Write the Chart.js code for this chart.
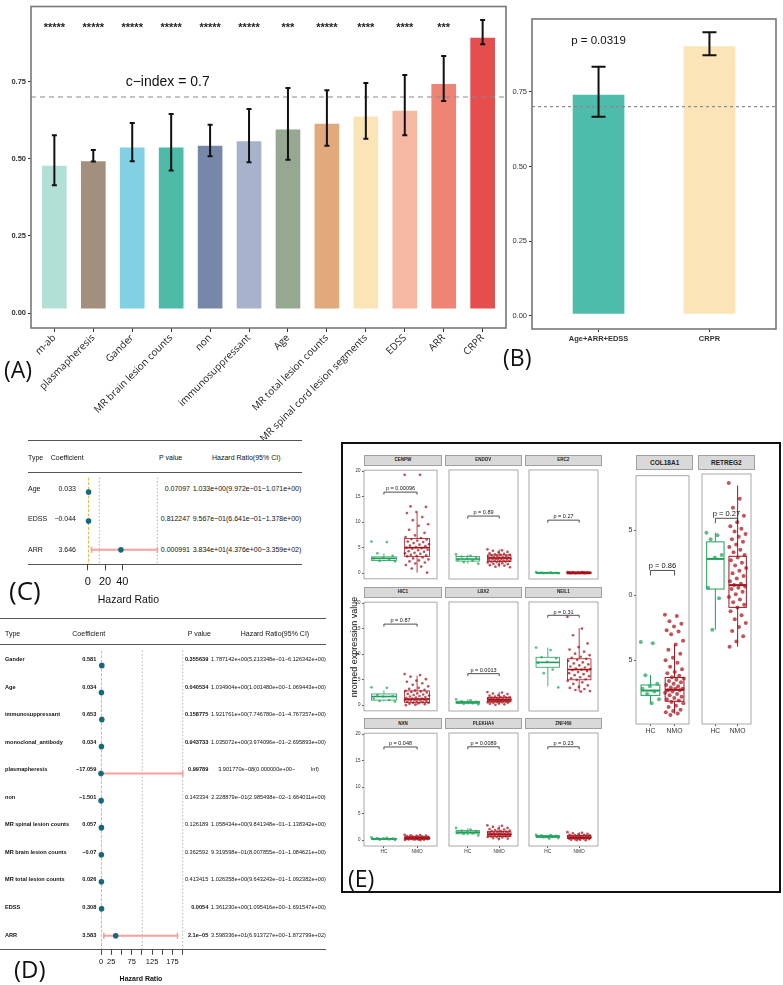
<!DOCTYPE html>
<html>
<head>
<meta charset="utf-8">
<script src="https://cdn.jsdelivr.net/npm/chart.js@4.4.1/dist/chart.umd.min.js"></script>
<style>
body { margin: 0; background: #fff; width: 783px; height: 985px; position: relative; overflow: hidden; font-family: "Liberation Sans", Arial, sans-serif; }
canvas { position: absolute; }
.t { position: absolute; white-space: pre; line-height: 1; color: #111; }
.hl { position: absolute; height: 0; }
.box { position: absolute; box-sizing: border-box; }
</style>
</head>
<body>
<script>
// ---------- data: panel A ----------
const aLabels = ['m-ab', 'plasmapheresis', 'Gander', 'MR brain lesion counts', 'non', 'immunosuppressant', 'Age',
    'MR total lesion counts', 'MR spinal cord lesion segments', 'EDSS', 'ARR', 'CRPR'];
const aCindex = [0.476, 0.491, 0.535, 0.535, 0.541, 0.556, 0.594, 0.612, 0.636, 0.654, 0.741, 0.891];
const aLow = [0.414, 0.491, 0.492, 0.462, 0.508, 0.489, 0.497, 0.542, 0.565, 0.576, 0.687, 0.871];
const aHigh = [0.576, 0.528, 0.616, 0.645, 0.610, 0.661, 0.729, 0.722, 0.745, 0.771, 0.833, 0.949];
const aStars = ['*****', '*****', '*****', '*****', '*****', '*****', '***', '*****', '****', '****', '***', ''];
const aColors = ['#b3e0d6', '#a38f7d', '#82d0e3', '#4dbba7', '#7787aa', '#a8b2cc', '#96a891', '#e0aa7d',
    '#fbe4b6', '#f7b8a3', '#ef8374', '#e54e4c'];
const aTicks = [0, 0.25, 0.5, 0.75];
const cIndexRef = 0.7;

// ---------- data: panel B ----------
const bLabels = ['Age+ARR+EDSS', 'CRPR'];
const bCindex = [0.739, 0.901];
const bLow = [0.666, 0.872];
const bHigh = [0.833, 0.949];
const bColors = ['#4dbcaa', '#fbe4b7'];
const bPText = 'p = 0.0319';

// ---------- data: panel C ----------
const cTypes = ['Age', 'EDSS', 'ARR'];
const cCoef = ['0.033', '\u22120.044', '3.646'];
const cHR = [1.033, 0.9567, 38.34];
const cLow = [0.9972, 0.6641, 4.376];
const cHigh = [1.071, 1.378, 335.9];
const cP = ['0.07097', '0.812247', '0.000991'];
const cCI = ['1.033e+00(9.972e\u221201\u22121.071e+00)', '9.567e\u221201(6.641e\u221201\u22121.378e+00)',
    '3.834e+01(4.376e+00\u22123.359e+02)'];
const cTicks = [0, 20, 40];

// ---------- data: panel D ----------
const dTypes = ['Gander', 'Age', 'immunosuppressant', 'monoclonal_antibody', 'plasmapheresis', 'non',
    'MR spinal lesion counts', 'MR brain lesion counts', 'MR total lesion counts', 'EDSS', 'ARR'];
const dCoef = ['0.581', '0.034', '0.653', '0.034', '\u221217.059', '\u22121.501', '0.057', '\u22120.07', '0.026', '0.308', '3.583'];
const dHR = [1.787, 1.035, 1.922, 1.035, 0.0000000390, 0.2229, 1.058, 0.932, 1.026, 1.361, 35.98];
const dLow = [0.5213, 1.0015, 0.7747, 0.3974, 0, 0.02985, 0.9841, 0.8008, 0.9643, 1.0954, 6.914];
const dHigh = [6.126, 1.0694, 4.767, 2.696, Infinity, 1.664, 1.138, 1.085, 1.092, 1.692, 187.3];
const dP = ['0.355639', '0.040534', '0.158775', '0.943733', '0.99789', '0.143334', '0.126189', '0.362592', '0.413415', '0.0054', '2.1e\u221205'];
const dPBold = [true, true, true, true, true, false, false, false, false, true, true];
const dCI = ['1.787142e+00(5.213348e\u221201\u22126.126342e+00)', '1.034904e+00(1.001480e+00\u22121.069443e+00)',
    '1.921761e+00(7.746780e\u221201\u22124.767357e+00)', '1.035072e+00(3.974096e\u221201\u22122.695893e+00)',
    '3.901770e\u221208(0.000000e+00\u2212          Inf)', '2.228879e\u221201(2.985498e\u221202\u22121.664011e+00)',
    '1.058434e+00(9.841348e\u221201\u22121.138342e+00)', '9.319598e\u221201(8.007855e\u221201\u22121.084621e+00)',
    '1.026358e+00(9.643243e\u221201\u22121.092382e+00)', '1.361230e+00(1.095416e+00\u22121.691547e+00)',
    '3.598336e+01(6.913727e+00\u22121.872799e+02)'];
const dTicks = [0, 25, 50, 75, 100, 125, 150, 175, 200];
const dTickLabels = [0, 25, 75, 125, 175];

// ---------- data: panel E (left 3x3 grid) ----------
const eGroups = ['HC', 'NMO'];
const eGenes = ['CENPW', 'ENDOV', 'ERC2', 'HIC1', 'LBX2', 'NEIL1', 'NXN', 'PLEKHA4', 'ZNF469'];
const eP = ['p = 0.00096', 'p = 0.89', 'p = 0.27', 'p = 0.87', 'p = 0.0013', 'p = 0.31', 'p = 0.048', 'p = 0.0089', 'p = 0.23'];
const eBracket = [15.9, 11.2, 10.4, 15.9, 6.2, 17.6, 17.6, 17.6, 17.6];
const eTicks = [0, 5, 10, 15, 20];
// box stats: [lower whisker, q1, median, q3, upper whisker]
const eHCbox = [[2.3, 2.5, 2.9, 3.2, 3.9], [1.9, 2.4, 2.8, 3.3, 3.7], [0, 0.05, 0.1, 0.15, 0.25],
    [0.7, 1.0, 1.7, 2.2, 2.9], [0.2, 0.4, 0.6, 0.8, 1.2], [3.7, 7.45, 8.4, 9.4, 11.3],
    [0.05, 0.15, 0.25, 0.35, 0.55], [0.9, 1.2, 1.5, 1.8, 2.3], [0.3, 0.5, 0.7, 0.85, 1.0]];
const eNMObox = [[0.1, 3.3, 5.0, 6.8, 11.9], [1.2, 2.3, 3.0, 3.6, 4.7], [0, 0.05, 0.1, 0.15, 0.25],
    [0, 0.5, 1.2, 2.8, 5.8], [0.1, 0.7, 1.1, 1.5, 2.6], [2.7, 5.0, 7.0, 9.1, 15.1],
    [0, 0.2, 0.4, 0.6, 1.0], [0.2, 0.7, 1.1, 1.6, 2.8], [0, 0.3, 0.5, 0.9, 1.5]];
const eHC = [
    [6.2, 6.1, 3.9, 3.4, 3.0, 2.9, 2.6, 2.4, 2.3],
    [3.7, 3.4, 3.3, 3.1, 2.9, 2.7, 2.5, 2.2, 1.9],
    [0.25, 0.2, 0.15, 0.12, 0.1, 0.08, 0.05, 0.03, 0.0],
    [3.5, 3.4, 2.0, 1.8, 1.7, 1.3, 1.0, 0.8, 0.7],
    [1.2, 1.0, 0.8, 0.7, 0.6, 0.5, 0.4, 0.3, 0.2],
    [11.3, 10.8, 9.4, 9.2, 8.5, 8.3, 7.0, 6.3, 3.5],
    [0.55, 0.45, 0.4, 0.3, 0.25, 0.2, 0.15, 0.1, 0.05],
    [2.3, 2.0, 1.8, 1.7, 1.5, 1.4, 1.3, 1.2, 0.9],
    [1.0, 0.95, 0.9, 0.8, 0.7, 0.7, 0.6, 0.5, 0.4, 0.3]];
const eNMO = [
    [19.3, 19.3, 13.1, 13.0, 12.0, 11.8, 11.0, 10.4, 9.6, 9.3, 8.5, 7.9, 7.4, 7.1, 6.9, 6.7, 6.6, 6.4, 6.2, 6.1, 5.9, 5.7,
        5.6, 5.4, 5.3, 5.1, 5.0, 4.9, 4.8, 4.6, 4.5, 4.3, 4.2, 4.0, 3.9, 3.8, 3.6, 3.5, 3.4, 3.3, 3.1, 2.9, 2.7, 2.5, 2.3,
        2.1, 1.9, 1.6, 1.3, 0.9, 0.1],
    [4.7, 4.5, 4.4, 4.2, 4.1, 3.9, 3.8, 3.7, 3.6, 3.6, 3.5, 3.4, 3.4, 3.3, 3.2, 3.2, 3.1, 3.1, 3.0, 3.0, 2.9, 2.9, 2.8,
        2.8, 2.7, 2.7, 2.6, 2.5, 2.5, 2.4, 2.4, 2.3, 2.3, 2.2, 2.1, 2.0, 1.9, 1.8, 1.7, 1.6, 1.5, 1.3, 1.2],
    [0.25, 0.24, 0.22, 0.21, 0.2, 0.19, 0.18, 0.17, 0.16, 0.16, 0.15, 0.15, 0.14, 0.14, 0.13, 0.13, 0.12, 0.12, 0.11,
        0.11, 0.1, 0.1, 0.1, 0.09, 0.09, 0.08, 0.08, 0.07, 0.07, 0.06, 0.06, 0.05, 0.05, 0.04, 0.04, 0.03, 0.03, 0.02,
        0.02, 0.01, 0.0, 0.0],
    [6.1, 5.9, 5.6, 5.1, 4.8, 4.6, 4.3, 4.0, 3.7, 3.4, 3.2, 3.0, 2.9, 2.8, 2.7, 2.6, 2.5, 2.3, 2.2, 2.1, 2.0, 1.9, 1.8,
        1.7, 1.6, 1.5, 1.4, 1.3, 1.3, 1.2, 1.2, 1.1, 1.1, 1.0, 1.0, 0.9, 0.9, 0.8, 0.8, 0.7, 0.6, 0.5, 0.5, 0.4, 0.3, 0.2,
        0.1, 0.0],
    [2.6, 2.5, 2.3, 2.2, 2.0, 1.9, 1.8, 1.7, 1.6, 1.6, 1.5, 1.5, 1.4, 1.4, 1.3, 1.3, 1.2, 1.2, 1.2, 1.1, 1.1, 1.1, 1.0,
        1.0, 1.0, 0.9, 0.9, 0.9, 0.8, 0.8, 0.8, 0.7, 0.7, 0.7, 0.6, 0.6, 0.5, 0.5, 0.4, 0.3, 0.2, 0.1],
    [17.3, 15.0, 13.7, 12.1, 11.4, 10.9, 10.5, 10.1, 9.8, 9.5, 9.3, 9.1, 8.9, 8.7, 8.4, 8.2, 8.0, 7.8, 7.6, 7.4, 7.2,
        7.1, 7.0, 6.9, 6.7, 6.5, 6.3, 6.1, 5.9, 5.7, 5.5, 5.3, 5.1, 5.0, 4.8, 4.5, 4.2, 3.9, 3.6, 3.4, 3.2, 3.0, 2.8, 2.7],
    [1.0, 0.95, 0.9, 0.85, 0.8, 0.75, 0.7, 0.7, 0.65, 0.6, 0.6, 0.55, 0.55, 0.5, 0.5, 0.5, 0.45, 0.45, 0.4, 0.4, 0.4,
        0.35, 0.35, 0.3, 0.3, 0.3, 0.25, 0.25, 0.2, 0.2, 0.15, 0.15, 0.1, 0.1, 0.05, 0.0],
    [2.8, 2.7, 2.5, 2.3, 2.2, 2.1, 2.0, 1.9, 1.8, 1.7, 1.7, 1.6, 1.6, 1.5, 1.5, 1.4, 1.4, 1.3, 1.3, 1.2, 1.2, 1.1, 1.1,
        1.1, 1.0, 1.0, 1.0, 0.9, 0.9, 0.8, 0.8, 0.7, 0.7, 0.6, 0.6, 0.5, 0.4, 0.3, 0.2],
    [1.5, 1.4, 1.3, 1.2, 1.1, 1.0, 1.0, 0.9, 0.9, 0.8, 0.8, 0.8, 0.7, 0.7, 0.7, 0.6, 0.6, 0.6, 0.5, 0.5, 0.5, 0.5, 0.4,
        0.4, 0.4, 0.3, 0.3, 0.3, 0.2, 0.2, 0.1, 0.1, 0.0, 0.0]];

// ---------- data: panel E (right pair) ----------
const rGenes = ['COL18A1', 'RETREG2'];
const rP = ['p = 0.86', 'p = 0.27'];
const rBracket = [1.19, 1.58];
const rTicks = [0.5, 1.0, 1.5];
const rTickText = ['5', '0', '5'];
const rHCbox = [[0.167, 0.23, 0.267, 0.31, 0.385], [0.73, 1.04, 1.27, 1.40, 1.47]];
const rNMObox = [[0.09, 0.185, 0.273, 0.367, 0.62], [0.6, 0.90, 1.07, 1.29, 1.83]];
const rHC = [
    [0.64, 0.63, 0.385, 0.32, 0.3, 0.28, 0.26, 0.24, 0.2, 0.17],
    [1.47, 1.45, 1.42, 1.30, 1.28, 1.05, 0.97, 0.73]];
const rNMO = [
    [0.85, 0.84, 0.8, 0.78, 0.76, 0.73, 0.72, 0.7, 0.65, 0.62, 0.58, 0.55, 0.52, 0.5, 0.48, 0.45, 0.43, 0.41, 0.4, 0.38,
        0.37, 0.36, 0.35, 0.34, 0.33, 0.32, 0.31, 0.3, 0.29, 0.28, 0.28, 0.27, 0.27, 0.26, 0.25, 0.24, 0.23, 0.22, 0.21,
        0.2, 0.19, 0.18, 0.17, 0.15, 0.14, 0.12, 0.11, 0.1, 0.09, 0.08],
    [1.85, 1.73, 1.66, 1.60, 1.55, 1.52, 1.50, 1.48, 1.46, 1.44, 1.42, 1.40, 1.38, 1.36, 1.34, 1.32, 1.30, 1.28, 1.26,
        1.24, 1.22, 1.20, 1.18, 1.16, 1.14, 1.12, 1.10, 1.08, 1.07, 1.06, 1.05, 1.04, 1.02, 1.00, 0.98, 0.96, 0.94, 0.92,
        0.90, 0.87, 0.84, 0.81, 0.78, 0.75, 0.72, 0.68, 0.64, 0.6]];

// ---------- helpers ----------
Chart.defaults.font.family = '"Liberation Sans", Arial, sans-serif';
Chart.defaults.animation = false;
Chart.defaults.plugins.legend.display = false;
Chart.defaults.plugins.tooltip.enabled = false;

function mk(x, y, w, h) {
    const c = document.createElement('canvas');
    c.width = w; c.height = h;
    c.style.left = x + 'px'; c.style.top = y + 'px';
    c.style.width = w + 'px'; c.style.height = h + 'px';
    document.body.appendChild(c);
    return c;
}

function txt(s, x, y, size, align, extra) {
    const d = document.createElement('div');
    d.className = 't';
    d.textContent = s;
    d.style.left = x + 'px';
    d.style.top = y + 'px';
    d.style.fontSize = size + 'px';
    const tx = align === 'r' ? '-100%' : align === 'c' ? '-50%' : '0';
    d.style.transform = 'translate(' + tx + ',-50%)';
    if (extra) Object.assign(d.style, extra);
    document.body.appendChild(d);
    return d;
}

function hline(x1, x2, y, color, w) {
    const d = document.createElement('div');
    d.className = 'hl';
    d.style.left = x1 + 'px';
    d.style.width = (x2 - x1) + 'px';
    d.style.top = (y - w / 2) + 'px';
    d.style.borderTop = w + 'px solid ' + color;
    document.body.appendChild(d);
}

function rect(x, y, w, h, css) {
    const d = document.createElement('div');
    d.className = 'box';
    d.style.left = x + 'px'; d.style.top = y + 'px';
    d.style.width = w + 'px'; d.style.height = h + 'px';
    Object.assign(d.style, css);
    document.body.appendChild(d);
    return d;
}

function frame(chart, color, lw) {
    const {ctx, chartArea: ca} = chart;
    ctx.save();
    ctx.strokeStyle = color;
    ctx.lineWidth = lw;
    ctx.strokeRect(ca.left, ca.top, ca.right - ca.left, ca.bottom - ca.top);
    ctx.restore();
}

function errorBars(chart, lows, highs, half, lw) {
    const {ctx, scales: {x, y}} = chart;
    ctx.save();
    ctx.strokeStyle = '#111';
    ctx.lineWidth = lw;
    lows.forEach((lo, i) => {
        const px = x.getPixelForValue(i);
        const y1 = y.getPixelForValue(lo), y2 = y.getPixelForValue(highs[i]);
        ctx.beginPath();
        ctx.moveTo(px, y1); ctx.lineTo(px, y2);
        ctx.moveTo(px - half, y1); ctx.lineTo(px + half, y1);
        ctx.moveTo(px - half, y2); ctx.lineTo(px + half, y2);
        ctx.stroke();
    });
    ctx.restore();
}

function refLine(chart, value, color, dash, lw) {
    const {ctx, chartArea: ca, scales: {y}} = chart;
    const py = y.getPixelForValue(value);
    ctx.save();
    ctx.strokeStyle = color;
    ctx.lineWidth = lw;
    ctx.setLineDash(dash);
    ctx.beginPath();
    ctx.moveTo(ca.left, py); ctx.lineTo(ca.right, py);
    ctx.stroke();
    ctx.restore();
}

// ---------- panel A ----------
new Chart(mk(0, 0, 512, 440), {
    type: 'bar',
    data: {
        datasets: [{
            data: aCindex.map((v, i) => ({x: i, y: v})),
            backgroundColor: aColors,
            barThickness: 24,
            base: 0.016,
            borderWidth: 0
        }]
    },
    options: {
        responsive: false,
        devicePixelRatio: 1,
        layout: {padding: {top: 2, right: 6, left: 0, bottom: 0}},
        scales: {
            x: {
                type: 'linear', min: -0.6, max: 11.6, offset: false,
                afterFit: s => { s.height = 112; },
                afterBuildTicks: s => { s.ticks = aLabels.map((_, i) => ({value: i})); },
                ticks: {
                    autoSkip: false, minRotation: 45, maxRotation: 45, padding: 0,
                    callback: v => aLabels[v], color: '#222',
                    font: {family: '"Open Sans", sans-serif', size: 10}
                },
                grid: {drawOnChartArea: false, offset: false, tickLength: 4, color: '#333'},
                border: {display: false}
            },
            y: {
                min: -0.048, max: 0.993,
                afterFit: s => { s.width = 31; },
                afterBuildTicks: s => { s.ticks = aTicks.map(v => ({value: v})); },
                ticks: {callback: v => v.toFixed(2), color: '#333', padding: 2, font: {size: 7.5, weight: 'bold'}},
                grid: {drawOnChartArea: false, tickLength: 3, color: '#333'},
                border: {display: false}
            }
        }
    },
    plugins: [{
        id: 'aExtras',
        afterDatasetsDraw(chart) {
            const {ctx, scales: {x, y}} = chart;
            refLine(chart, cIndexRef, '#8a8a8a', [5, 4], 1.2);
            errorBars(chart, aLow, aHigh, 2.5, 2);
            ctx.save();
            ctx.fillStyle = '#222';
            ctx.textAlign = 'center';
            ctx.textBaseline = 'middle';
            ctx.font = 'bold 11px "Liberation Sans"';
            aStars.forEach((s, i) => ctx.fillText(s, x.getPixelForValue(i), y.getPixelForValue(0.925)));
            ctx.font = '14px "Liberation Sans"';
            ctx.fillStyle = '#111';
            ctx.fillText('c\u2212index = ' + cIndexRef, x.getPixelForValue(2.91), y.getPixelForValue(0.748));
            ctx.restore();
        },
        afterDraw(chart) { frame(chart, '#777', 1.6); }
    }]
});
txt('(A)', 4, 369, 23, 'l', {fontFamily: '"Open Sans", sans-serif'});

// ---------- panel B ----------
new Chart(mk(500, 0, 283, 350), {
    type: 'bar',
    data: {
        datasets: [{
            data: bCindex.map((v, i) => ({x: i, y: v})),
            backgroundColor: bColors,
            barThickness: 51,
            base: 0.009,
            borderWidth: 0
        }]
    },
    options: {
        responsive: false,
        devicePixelRatio: 1,
        layout: {padding: {top: 19, right: 7, left: 0, bottom: 0}},
        scales: {
            x: {
                type: 'linear', min: -0.6, max: 1.6, offset: false,
                afterFit: s => { s.height = 21; },
                afterBuildTicks: s => { s.ticks = bLabels.map((_, i) => ({value: i})); },
                ticks: {autoSkip: false, maxRotation: 0, padding: 2, callback: v => bLabels[v], color: '#333', font: {size: 7.5, weight: 'bold'}},
                grid: {drawOnChartArea: false, offset: false, tickLength: 3, color: '#333'},
                border: {display: false}
            },
            y: {
                min: -0.0435, max: 0.993,
                afterFit: s => { s.width = 32; },
                afterBuildTicks: s => { s.ticks = aTicks.map(v => ({value: v})); },
                ticks: {callback: v => v.toFixed(2), color: '#333', padding: 2, font: {size: 7.5}},
                grid: {drawOnChartArea: false, tickLength: 3, color: '#333'},
                border: {display: false}
            }
        }
    },
    plugins: [{
        id: 'bExtras',
        afterDatasetsDraw(chart) {
            const {ctx, scales: {x, y}} = chart;
            refLine(chart, cIndexRef, '#8a8a8a', [3, 3], 1.2);
            errorBars(chart, bLow, bHigh, 7, 2);
            ctx.save();
            ctx.fillStyle = '#111';
            ctx.textAlign = 'center';
            ctx.textBaseline = 'middle';
            ctx.font = '11.5px "Liberation Sans"';
            ctx.fillText(bPText, x.getPixelForValue(0), y.getPixelForValue(0.92));
            ctx.restore();
        },
        afterDraw(chart) { frame(chart, '#777', 1.6); }
    }]
});
txt('(B)', 503, 357, 23, 'l', {fontFamily: '"Open Sans", sans-serif'});

// ---------- forest plot helper (panels C and D) ----------
function forest(canvas, o) {
    // dots first: Chart.js paints the first dataset on top
    const dots = {
        data: o.hr.map((v, i) => ({x: v, y: i})),
        pointRadius: o.dot, pointBackgroundColor: '#126b7c', backgroundColor: '#126b7c',
        pointBorderWidth: 0, borderWidth: 0, clip: false
    };
    const ciSets = o.low.map((lo, i) => ({
        type: 'line',
        data: [{x: Math.max(lo, o.min), y: i}, {x: Math.min(o.high[i], o.max), y: i}],
        borderColor: '#f6a29c', borderWidth: 2,
        pointStyle: 'line', pointRotation: 90, pointRadius: o.cap,
        pointBorderColor: '#f6a29c', pointBorderWidth: 1.6,
        clip: false
    }));
    return new Chart(canvas, {
        type: 'scatter',
        data: {datasets: [dots].concat(ciSets)},
        options: {
            responsive: false,
            devicePixelRatio: 1,
            layout: {padding: o.pad},
            scales: {
                x: {
                    type: 'linear', min: o.min, max: o.max,
                    afterFit: s => { s.height = o.axisH; },
                    afterBuildTicks: s => { s.ticks = o.ticks.map(v => ({value: v})); },
                    ticks: {autoSkip: false, maxRotation: 0, padding: o.tickPad, color: '#111',
                        callback: v => o.tickLabels.includes(v) ? String(v) : '',
                        font: {size: o.tickFont}},
                    grid: {drawOnChartArea: false, tickLength: o.tickLen, color: '#444'},
                    border: {display: false}
                },
                y: {type: 'linear', display: false, reverse: true, min: o.yMin, max: o.yMax}
            }
        },
        plugins: [{
            id: 'vlines',
            beforeDatasetsDraw(chart) {
                const {ctx, chartArea: ca, scales: {x}} = chart;
                ctx.save();
                o.vlines.forEach(([v, color, dash]) => {
                    const px = x.getPixelForValue(v);
                    ctx.strokeStyle = color;
                    ctx.lineWidth = 1;
                    ctx.setLineDash(dash);
                    ctx.beginPath();
                    ctx.moveTo(px, ca.top); ctx.lineTo(px, ca.bottom);
                    ctx.stroke();
                });
                ctx.restore();
            }
        }]
    });
}

// ---------- panel C ----------
const cHeadY = 456.7, cLineTop = 472.3, cLineBottom = 564.3, cRowH = 30.67;
hline(28, 302, 441, '#555', 1.4);
hline(28, 302, cLineTop, '#555', 1.4);
hline(28, 302, cLineBottom, '#555', 1.4);
txt('Type', 28, cHeadY, 7);
txt('Coefficient', 50.7, cHeadY, 7);
txt('P value', 159, cHeadY, 7);
txt('Hazard Ratio(95% CI)', 212, cHeadY, 7);
cTypes.forEach((t, i) => {
    const y = cLineTop + cRowH * (i + 0.5);
    txt(t, 28, y, 7);
    txt(cCoef[i], 76, y, 7, 'r');
    txt(cP[i], 190, y, 7, 'r');
    txt(cCI[i], 192.7, y, 7);
});
forest(mk(28, 472, 274, 140), {
    hr: cHR, low: cLow, high: cHigh, min: -8.9, max: 80.4, yMin: -0.5, yMax: 2.5,
    pad: {left: 52, right: 144.7, top: 0.3, bottom: 0}, axisH: 47.7,
    ticks: cTicks, tickLabels: cTicks, tickFont: 11, tickPad: 5, tickLen: 6,
    dot: 2.8, cap: 3,
    vlines: [[1, '#e9b949', [3, 1.5]], [13.4, '#b0b0b0', [1.5, 2]], [80.4, '#b0b0b0', [1.5, 2]]]
});
txt('Hazard Ratio', 128.4, 599, 10.5, 'c');
txt('(C)', 9, 590, 26, 'l', {fontFamily: '"Open Sans", sans-serif'});

// ---------- panel D ----------
const dHeadY = 632.7, dLineTop = 645, dLineBottom = 949.3, dRowH = 27.54, dFirst = 15.1;
hline(0, 326, 618.3, '#555', 1.4);
hline(0, 326, dLineTop, '#555', 1.4);
hline(0, 326, dLineBottom, '#555', 1.4);
txt('Type', 5, dHeadY, 7);
txt('Coefficient', 72.3, dHeadY, 7);
txt('P value', 187.7, dHeadY, 7);
txt('Hazard Ratio(95% CI)', 240.7, dHeadY, 7);
dTypes.forEach((t, i) => {
    const y = dLineTop + dFirst + dRowH * i;
    txt(t, 5, y, 5.6, 'l', {fontWeight: 'bold'});
    txt(dCoef[i], 96.3, y, 5.6, 'r', {fontWeight: 'bold'});
    txt(dP[i], 208.3, y, 5.6, 'r', {fontWeight: dPBold[i] ? 'bold' : 'normal'});
    txt(dCI[i], 268.5, y, 5.6, 'c');
});
forest(mk(0, 645, 326, 329), {
    hr: dHR, low: dLow, high: dHigh, min: -14.7, max: 200, yMin: -0.55, yMax: 10.5,
    pad: {left: 95, right: 143.3, top: 0, bottom: 0}, axisH: 24.7,
    ticks: dTicks, tickLabels: dTickLabels, tickFont: 7.5, tickPad: 3, tickLen: 5.5,
    dot: 2.8, cap: 3,
    vlines: [[1, '#e9b949', [3, 1.5]], [101, '#b0b0b0', [1.5, 2]], [200, '#b0b0b0', [1.5, 2]]]
});
txt('Hazard Ratio', 141, 977.7, 7, 'c', {fontWeight: 'bold'});
txt('(D)', 14, 969, 24, 'l', {fontFamily: '"Open Sans", sans-serif'});

// ---------- panel E ----------
rect(341, 442, 439.5, 451, {border: '2px solid #111'});
const hcColor = 'rgba(36,168,96,0.75)', nmoColor = 'rgba(170,16,26,0.72)';
const hcLine = '#1f9e5a', nmoLine = '#a3141c';

function jit(i) {
    // fixed, evenly spread horizontal offsets so points do not sit on one line
    return ((i * 0.6180339887) % 1) - 0.5;
}

function facet(o) {
    const c = mk(Math.round(o.x - o.left), Math.round(o.y), Math.round(o.w + o.left), Math.round(o.h + o.bottom));
    const groups = [[o.hc, o.hcBox, hcColor, hcLine], [o.nmo, o.nmoBox, nmoColor, nmoLine]];
    new Chart(c, {
        type: 'scatter',
        data: {
            datasets: groups.map(([pts, , col], g) => ({
                data: pts.map((v, i) => ({x: g + jit(i) * o.spread, y: v})),
                pointRadius: o.r, backgroundColor: col, borderWidth: 0
            }))
        },
        options: {
            responsive: false,
            devicePixelRatio: 1,
            layout: {padding: 0},
            scales: {
                x: {
                    type: 'linear', min: -0.6, max: 1.6, display: o.bottom > 0,
                    afterFit: s => { s.height = o.bottom; },
                    afterBuildTicks: s => { s.ticks = eGroups.map((_, i) => ({value: i})); },
                    ticks: {autoSkip: false, maxRotation: 0, padding: 1, color: '#333', callback: v => eGroups[v],
                        font: {size: o.xFont}},
                    grid: {drawOnChartArea: false, tickLength: 2, color: '#555'},
                    border: {display: false}
                },
                y: {
                    type: 'linear', min: o.yMin, max: o.yMax, display: o.left > 0,
                    afterFit: s => { s.width = o.left; },
                    afterBuildTicks: s => { s.ticks = o.yTicks.map(v => ({value: v})); },
                    ticks: {padding: 1.5, color: '#333', callback: o.yText, font: {size: o.yFont}},
                    grid: {drawOnChartArea: false, tickLength: 2, color: '#555'},
                    border: {display: false}
                }
            }
        },
        plugins: [{
            id: 'boxes',
            beforeDatasetsDraw(chart) {
                const {ctx, scales: {x, y}} = chart;
                ctx.save();
                groups.forEach(([, b, , line], g) => {
                    const cx = x.getPixelForValue(g);
                    const hw = x.getPixelForValue(g + o.boxHalf) - cx;
                    const [lw, q1, md, q3, hi] = b.map(v => y.getPixelForValue(v));
                    ctx.strokeStyle = line;
                    ctx.lineWidth = o.lw;
                    ctx.beginPath();
                    ctx.moveTo(cx, lw); ctx.lineTo(cx, q1);
                    ctx.moveTo(cx, q3); ctx.lineTo(cx, hi);
                    ctx.stroke();
                    ctx.strokeRect(cx - hw, q3, hw * 2, q1 - q3);
                    ctx.lineWidth = o.lw * 2;
                    ctx.beginPath();
                    ctx.moveTo(cx - hw, md); ctx.lineTo(cx + hw, md);
                    ctx.stroke();
                });
                ctx.restore();
            },
            afterDatasetsDraw(chart) {
                const {ctx, scales: {x, y}} = chart;
                const x0 = x.getPixelForValue(0), x1 = x.getPixelForValue(1), by = y.getPixelForValue(o.bracket);
                ctx.save();
                ctx.strokeStyle = '#222';
                ctx.lineWidth = 0.8;
                ctx.beginPath();
                ctx.moveTo(x0, by + o.arm); ctx.lineTo(x0, by); ctx.lineTo(x1, by); ctx.lineTo(x1, by + o.arm);
                ctx.stroke();
                ctx.fillStyle = '#111';
                ctx.textAlign = 'center';
                ctx.textBaseline = 'bottom';
                ctx.font = o.pFont + 'px "Liberation Sans"';
                ctx.fillText(o.p, (x0 + x1) / 2, by - 0.5);
                ctx.restore();
            },
            afterDraw(chart) { frame(chart, '#a8a8a8', 1); }
        }]
    });
}

function strip(x, y, w, h, label, size) {
    rect(x, y, w, h, {background: '#d9d9d9', border: '1px solid #a0a0a0'});
    txt(label, x + w / 2, y + h / 2, size, 'c', {fontWeight: 'bold', color: '#222'});
}

const eColX = [364.3, 444.7, 524.7], eRowY = [454.7, 586.7, 718.3];
const eW = 77.3, eStripH = 11, eH = 117.4;
eGenes.forEach((g, k) => {
    const r = Math.floor(k / 3), c = k % 3;
    strip(eColX[c], eRowY[r], eW, eStripH, g, 4.5);
    facet({
        x: eColX[c], y: eRowY[r] + eStripH, w: eW, h: eH,
        left: c === 0 ? 10 : 0, bottom: r === 2 ? 11 : 0,
        yMin: -1.1, yMax: 20.2, yTicks: eTicks, yText: v => String(v), yFont: 4.5, xFont: 4.8,
        hc: eHC[k], nmo: eNMO[k], hcBox: eHCbox[k], nmoBox: eNMObox[k],
        p: eP[k], bracket: eBracket[k], pFont: 5.5, arm: 2.5,
        spread: 0.75, r: 1.35, boxHalf: 0.375, lw: 0.8
    });
});
txt('nromed expression value', 353.5, 647, 9, 'c', {transform: 'translate(-50%,-50%) rotate(-90deg)', color: '#111'});

const rColX = [636, 697.7];
const rW = 57.3, rStripY = 455.3, rStripH = 14.7, rH = 254.3;
rGenes.forEach((g, k) => {
    strip(rColX[k], rStripY, rW, rStripH, g, 6.5);
    facet({
        x: rColX[k], y: rStripY + rStripH, w: rW, h: rH,
        left: k === 0 ? 16 : 0, bottom: 14,
        yMin: 0.01, yMax: 1.918, yTicks: rTicks, yText: v => rTickText[rTicks.indexOf(v)], yFont: 7, xFont: 6.8,
        hc: rHC[k], nmo: rNMO[k], hcBox: rHCbox[k], nmoBox: rNMObox[k],
        p: rP[k], bracket: rBracket[k], pFont: 7.5, arm: 5,
        spread: 0.8, r: 2, boxHalf: 0.39, lw: 1
    });
});
txt('(E)', 348, 878, 23, 'l', {fontFamily: '"Open Sans", sans-serif'});
</script>
</body>
</html>
